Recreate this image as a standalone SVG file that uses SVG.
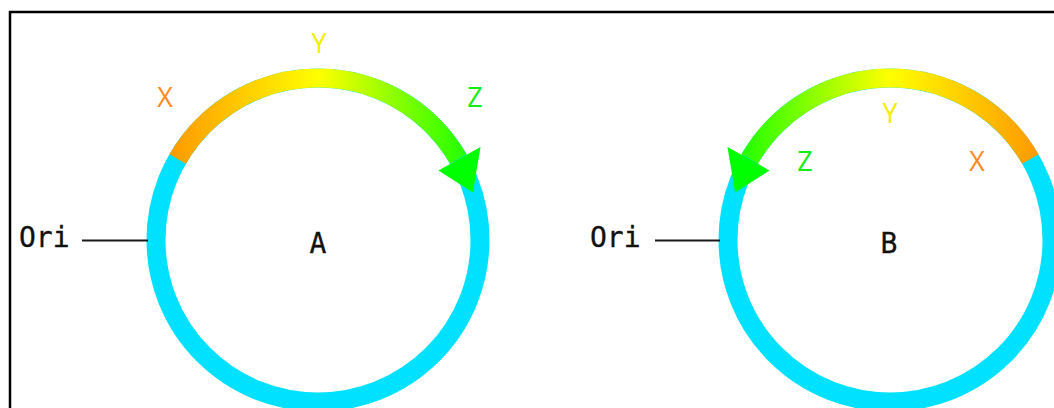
<svg xmlns="http://www.w3.org/2000/svg" width="1054" height="408" viewBox="0 0 1054 408">
  <style>
    .frame { fill: none; stroke: #000; stroke-width: 2.5; }
    .ring { fill: none; stroke: #00E1FF; stroke-width: 19; }
    .gene { fill: none; stroke-width: 19; stroke-linecap: butt; }
    .head { fill: #00FF00; }
    .tick { stroke: #1a1a1a; stroke-width: 2.2; }
    .mono { font-family: "DejaVu Sans Mono", "Liberation Mono", monospace; font-size: 28px; fill: #111; stroke: #111; stroke-width: 0.3; }
    .lbl { font-family: "Open Sans", "DejaVu Sans", sans-serif; font-size: 27px; text-anchor: middle; }
    .gx { fill: #FF8A1E; }
    .gy { fill: #F2EE00; }
    .gz { fill: #11EE11; }
  </style>
  <defs>
    <linearGradient id="gradA" gradientUnits="userSpaceOnUse" x1="170" y1="0" x2="466" y2="0">
      <stop offset="0" stop-color="#FF9900"/>
      <stop offset="0.5" stop-color="#FFFF00"/>
      <stop offset="1" stop-color="#22FF00"/>
    </linearGradient>
    <linearGradient id="gradB" gradientUnits="userSpaceOnUse" x1="742" y1="0" x2="1038" y2="0">
      <stop offset="0" stop-color="#22FF00"/>
      <stop offset="0.5" stop-color="#FFFF00"/>
      <stop offset="1" stop-color="#FF9900"/>
    </linearGradient>
  </defs>

  <rect class="frame" x="10" y="12" width="1060" height="420"/>

  <!-- plasmid A -->
  <g id="plasmid-a">
    <circle class="ring" cx="318" cy="240" r="162"/>
    <path class="gene" stroke="url(#gradA)" d="M 177.7 159 A 162 162 0 0 1 458.3 159"/>
    <polygon class="head" points="480.5,147 438.4,170.5 472.9,192.6"/>
    <text class="mono" x="318" y="253" text-anchor="middle">A</text>
  </g>
  <g id="labels-a">
    <text class="lbl gx" x="165" y="107">X</text>
    <text class="lbl gy" x="319" y="53">Y</text>
    <text class="lbl gz" x="475" y="107">Z</text>
  </g>
  <g id="ori-a">
    <text class="mono" x="19" y="247">Ori</text>
  </g>

  <!-- plasmid B -->
  <g id="plasmid-b">
    <circle class="ring" cx="890" cy="240" r="162"/>
    <path class="gene" stroke="url(#gradB)" d="M 1030.3 159 A 162 162 0 0 0 749.7 159"/>
    <polygon class="head" points="727.5,147 769.6,170.5 735.1,192.6"/>
    <text class="mono" x="889" y="253" text-anchor="middle">B</text>
  </g>
  <g id="labels-b">
    <text class="lbl gx" x="977" y="171">X</text>
    <text class="lbl gy" x="890" y="123">Y</text>
    <text class="lbl gz" x="805" y="171">Z</text>
  </g>
  <g id="ori-b">
    <text class="mono" x="590" y="247">Ori</text>
  </g>

  <!-- connectors: Ori ticks -->
  <g id="connectors">
    <line class="tick" x1="82" y1="240.5" x2="148" y2="240.5"/>
    <line class="tick" x1="655" y1="240.5" x2="720" y2="240.5"/>
  </g>
</svg>
